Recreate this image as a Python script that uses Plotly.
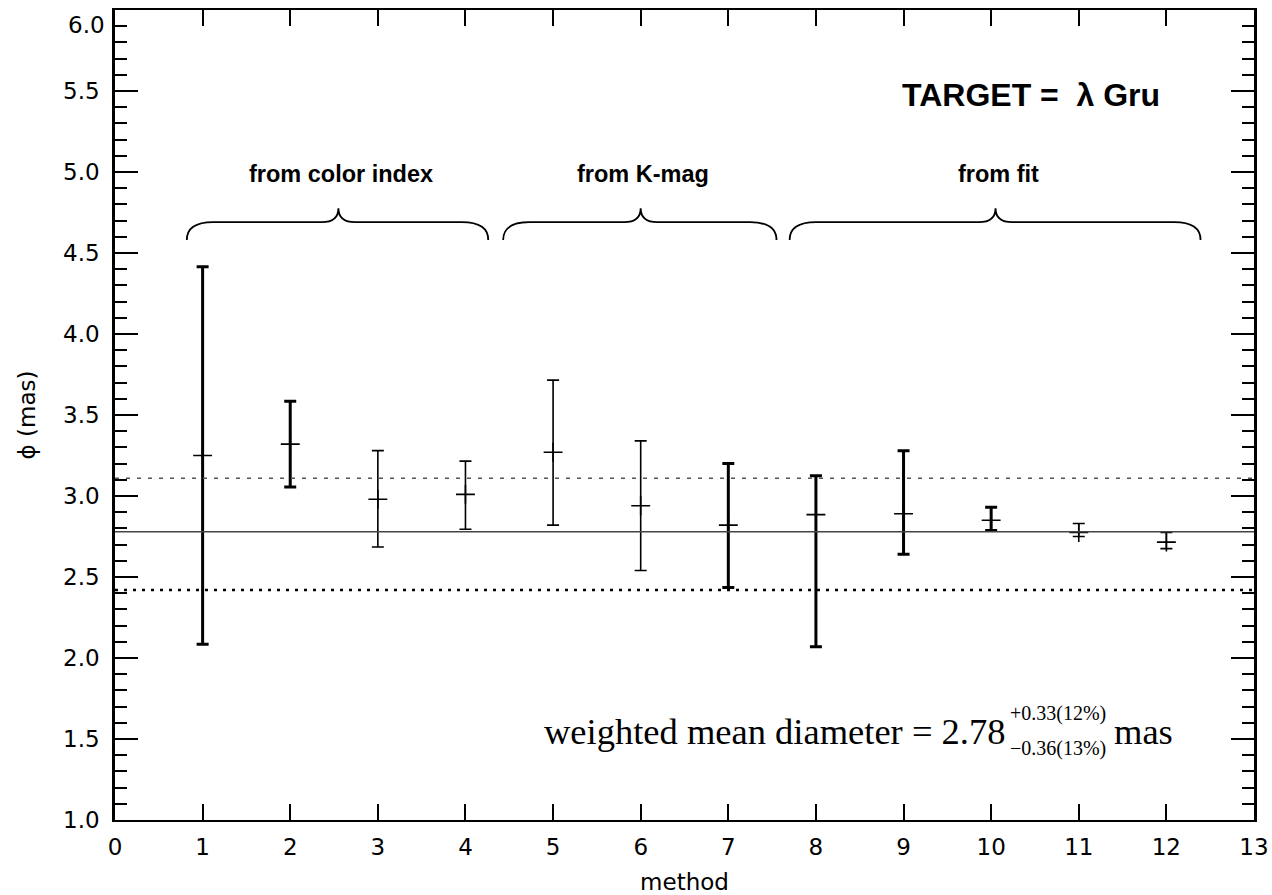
import plotly.graph_objects as go

# ---- data ----
methods = [1, 2, 3, 4, 5, 6, 7, 8, 9, 10, 11, 12]
diameter = [3.25, 3.32, 2.98, 3.01, 3.27, 2.94, 2.82, 2.885, 2.89, 2.85, 2.775, 2.715]
upper = [4.415, 3.585, 3.28, 3.215, 3.715, 3.34, 3.20, 3.125, 3.28, 2.93, 2.83, 2.775]
lower = [2.085, 3.055, 2.685, 2.795, 2.82, 2.54, 2.435, 2.07, 2.64, 2.787, 2.75, 2.675]
thick = [True, True, False, False, False, False, True, True, True, True, False, False]

mean_diam = 2.78
mean_plus = 0.33
mean_minus = 0.36
mean_plus_pct = 12
mean_minus_pct = 13

group_labels = ["from color index", "from K-mag", "from fit"]
group_start = [0.82, 4.43, 7.70]
group_end = [4.26, 7.55, 12.39]
group_tip = [2.55, 6.00, 10.05]

target_name = "λ Gru"

x_ticks = list(range(0, 14))
y_ticks = [1.0, 1.5, 2.0, 2.5, 3.0, 3.5, 4.0, 4.5, 5.0, 5.5, 6.0]
y_range = [1.0, 6.0]
x_range = [0, 13]

fig = go.Figure()

# error bars (thick and thin groups)
for flag, w in [(True, 3.0), (False, 1.6)]:
    idx = [i for i, t in enumerate(thick) if t == flag]
    xs = [methods[i] for i in idx]
    ys = [diameter[i] for i in idx]
    ep = [upper[i] - diameter[i] for i in idx]
    em = [diameter[i] - lower[i] for i in idx]
    fig.add_trace(go.Scatter(
        x=xs, y=ys, mode="markers",
        marker=dict(symbol="cross-thin", size=13.5, color="black",
                    line=dict(color="black", width=1.6)),
        error_y=dict(type="data", symmetric=False, array=ep, arrayminus=em,
                     color="black", thickness=w, width=6),
        showlegend=False, hoverinfo="skip",
    ))

# mean and its uncertainty band
fig.add_hline(y=mean_diam, line=dict(color="#444444", width=1.5))
fig.add_hline(y=mean_diam + mean_plus, line=dict(color="#555555", width=1.5, dash="4px,7px"))
fig.add_hline(y=mean_diam - mean_minus, line=dict(color="black", width=2.5, dash="3px,6px"))

# braces with labels
y_end, y_mid, y_tip = 4.58, 4.69, 4.776
rx, rt = 0.30, 0.19
for lab, x0, x1, xt in zip(group_labels, group_start, group_end, group_tip):
    path = (f"M {x0},{y_end} Q {x0},{y_mid} {x0 + rx},{y_mid} "
            f"L {xt - rt},{y_mid} Q {xt},{y_mid} {xt},{y_tip} "
            f"Q {xt},{y_mid} {xt + rt},{y_mid} "
            f"L {x1 - rx},{y_mid} Q {x1},{y_mid} {x1},{y_end}")
    fig.add_shape(type="path", path=path, xref="x", yref="y",
                  line=dict(color="black", width=1.8))
    fig.add_annotation(x=xt + 0.03, y=4.99, xref="x", yref="y", text=f"<b>{lab}</b>",
                       showarrow=False, font=dict(family="Liberation Sans", size=23.5, color="black"))

fig.add_annotation(x=10.46, y=5.475, xref="x", yref="y",
                   text=f"<b>TARGET =  {target_name}</b>", showarrow=False,
                   font=dict(family="Liberation Sans", size=32, color="black"))

# weighted mean text
serif = "Liberation Serif"
fig.add_annotation(x=4.87, y=1.545, xref="x", yref="y", xanchor="left", yanchor="middle",
                   text=f"weighted mean diameter = {mean_diam:.2f}", showarrow=False,
                   font=dict(family=serif, size=36.5, color="black"))
fig.add_annotation(x=10.19, y=1.66, xref="x", yref="y", xanchor="left", yanchor="middle",
                   text=f"+{mean_plus:.2f}({mean_plus_pct}%)", showarrow=False,
                   font=dict(family=serif, size=20, color="black"))
fig.add_annotation(x=10.19, y=1.44, xref="x", yref="y", xanchor="left", yanchor="middle",
                   text=f"\u2212{mean_minus:.2f}({mean_minus_pct}%)", showarrow=False,
                   font=dict(family=serif, size=20, color="black"))
fig.add_annotation(x=11.38, y=1.545, xref="x", yref="y", xanchor="left", yanchor="middle",
                   text="mas", showarrow=False,
                   font=dict(family=serif, size=36.5, color="black"))

tick_font = dict(family="DejaVu Sans", size=23, color="black")

# the top y label is drawn nudged down (as in the original) so it stays on the page
y_ticktext = [f"{v:.1f}" for v in y_ticks[:-1]] + [""]
fig.add_annotation(x=x_range[0], y=y_ticks[-1], xref="x", yref="y", xanchor="right",
                   yanchor="middle", xshift=-8, yshift=-15, text=f"{y_ticks[-1]:.1f}",
                   showarrow=False, font=tick_font)

fig.update_layout(
    width=1272, height=895, autosize=False,
    margin=dict(l=115, r=18, t=10, b=75),
    paper_bgcolor="white", plot_bgcolor="white",
    xaxis=dict(range=x_range, tickvals=x_ticks, ticks="inside", ticklen=16, tickwidth=1.5,
               tickcolor="black", showline=True, linecolor="black", linewidth=2,
               mirror="ticks", showgrid=False, zeroline=False, tickfont=tick_font,
               automargin=False, ticklabelstandoff=5, ticklabeloverflow="allow",
               title=dict(text="method", font=tick_font, standoff=17)),
    yaxis=dict(range=y_range, tickvals=y_ticks, ticktext=y_ticktext, ticks="inside", ticklen=23,
               tickwidth=1.5, tickcolor="black", showline=True, linecolor="black",
               linewidth=2.5, mirror="ticks", showgrid=False, zeroline=False,
               tickfont=tick_font, automargin=False, ticklabelstandoff=8,
               ticklabeloverflow="allow",
               minor=dict(dtick=0.1, ticks="inside", ticklen=12, tickwidth=2, tickcolor="black",
                          showgrid=False),
               title=dict(text="ϕ (mas)", font=tick_font, standoff=22)),
)

fig.write_html("out.html")
